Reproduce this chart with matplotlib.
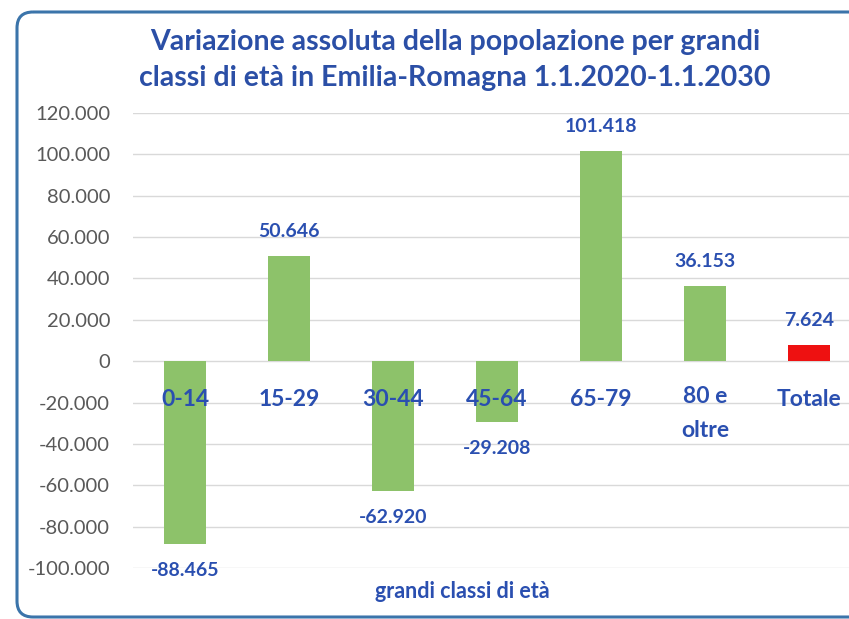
import matplotlib
matplotlib.use("Agg")
import matplotlib.pyplot as plt
from matplotlib.patches import FancyBboxPatch
from matplotlib.ticker import FuncFormatter

categories = ["0-14", "15-29", "30-44", "45-64", "65-79", "80 e\noltre", "Totale"]
values = [-88465, 50646, -62920, -29208, 101418, 36153, 7624]
value_labels = ["-88.465", "50.646", "-62.920", "-29.208", "101.418", "36.153", "7.624"]
yticks = [-100000, -80000, -60000, -40000, -20000, 0, 20000, 40000, 60000, 80000, 100000, 120000]

plt.rcParams['font.family'] = ['Lato', 'DejaVu Sans']
W, H = 849, 619
fig = plt.figure(figsize=(W / 100, H / 100), dpi=100)
fig.patch.set_facecolor("white")

# background axes in pixel coordinates for the rounded frame
bg = fig.add_axes([0, 0, 1, 1])
bg.set_xlim(0, W)
bg.set_ylim(H, 0)
bg.axis("off")
frame = FancyBboxPatch((17, 12), W + 40, 605,
                       boxstyle="round,pad=0,rounding_size=16",
                       fill=False, edgecolor="#3b74aa", linewidth=2.2)
bg.add_patch(frame)

title_color = "#2b4fa6"
fig.text(455 / W, 1 - 42 / H, "Variazione assoluta della popolazione per grandi",
         ha="center", va="center", fontsize=20.5, fontweight="bold", color=title_color)
fig.text(455 / W, 1 - 78 / H, "classi di età in Emilia-Romagna 1.1.2020-1.1.2030",
         ha="center", va="center", fontsize=20.5, fontweight="bold", color=title_color)

# axes: y=120000 at px 113, y=-100000 at px 568 ; x from 133 to 861
y_top_px, y_bot_px = 113, 568
ax = fig.add_axes([133 / W, 1 - y_bot_px / H, 728 / W, (y_bot_px - y_top_px) / H])
ax.set_facecolor("none")
ax.set_ylim(-100000, 120000)
ax.set_xlim(-0.5, len(categories) - 0.5)

colors = ["#8dc26a"] * 6 + ["#ee1111"]
x = list(range(len(categories)))
ax.bar(x, values, width=0.41, color=colors, zorder=3)

ax.set_yticks(yticks)
ax.yaxis.set_major_formatter(FuncFormatter(lambda v, p: f"{int(v):,}".replace(",", ".")))
ax.tick_params(axis="y", labelsize=14.5, labelcolor="#595959", length=0, pad=16.5)
ax.set_xticks([])
ax.grid(axis="y", color="#d9d9d9", linewidth=1.0, zorder=0)
for s in ax.spines.values():
    s.set_visible(False)

label_color = "#2a4fb0"
for xi, v, lab in zip(x, values, value_labels):
    if v >= 0:
        ax.annotate(lab, (xi, v), xytext=(0, 12), textcoords="offset points",
                    ha="center", va="bottom", fontsize=14, fontweight="bold", color=label_color)
    else:
        ax.annotate(lab, (xi, v), xytext=(0, -13), textcoords="offset points",
                    ha="center", va="top", fontsize=14, fontweight="bold", color=label_color)

for xi, c in zip(x, categories):
    if "\n" in c:
        ax.text(xi, -12000, c, ha="center", va="top", fontsize=16.5, fontweight="bold",
                color=label_color, linespacing=1.75, zorder=4)
    else:
        ax.text(xi, -18500, c, ha="center", va="center", fontsize=16.5, fontweight="bold",
                color=label_color, zorder=4)

fig.text(462 / W, 1 - 591 / H, "grandi classi di età", ha="center", va="center",
         fontsize=15.5, fontweight="bold", color=label_color)

fig.savefig("out.png", dpi=100)
